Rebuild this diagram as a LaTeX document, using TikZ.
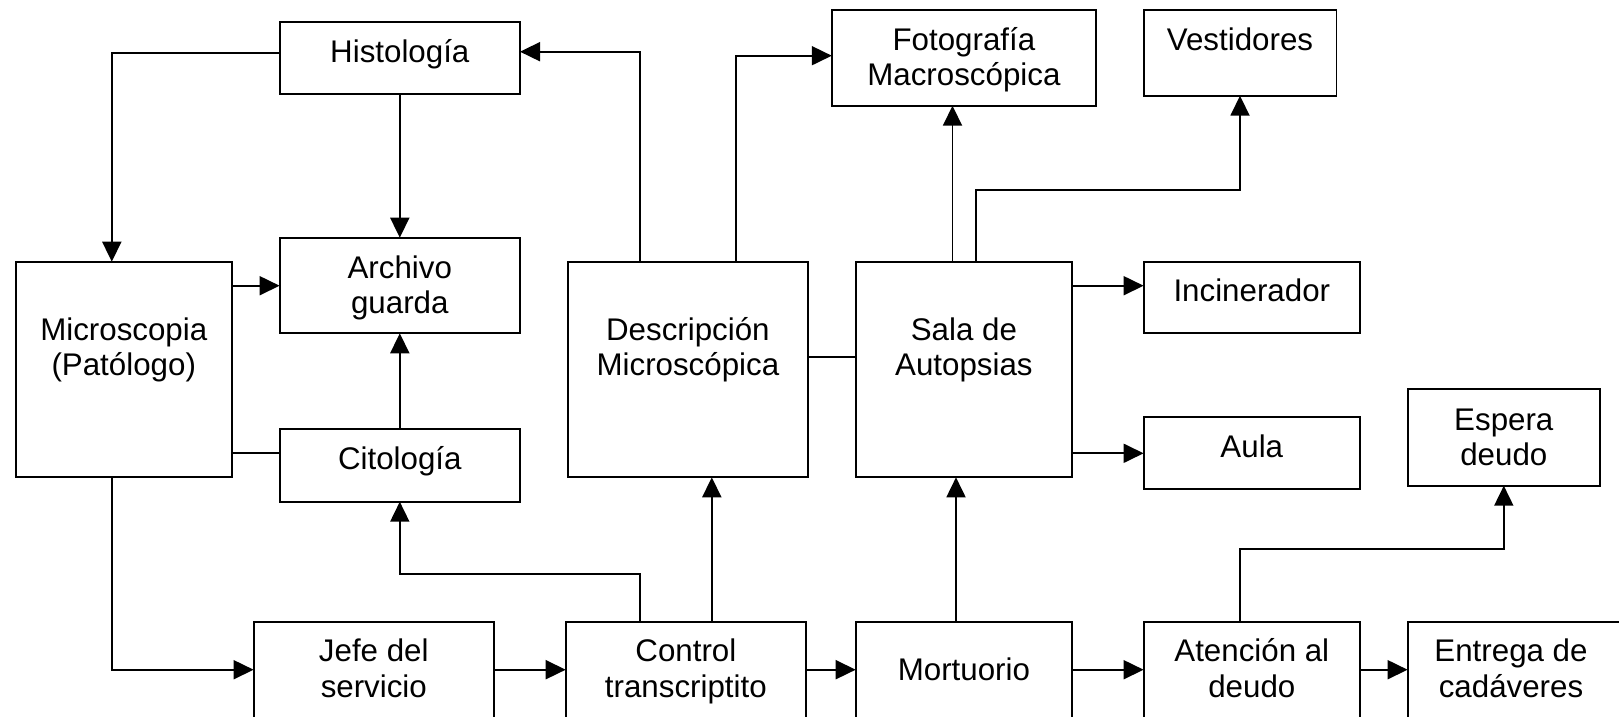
\documentclass[tikz,border=0pt]{standalone}
\usepackage{fontspec}
\setmainfont{Liberation Sans}
\usetikzlibrary{arrows.meta}
\newcommand\bx[5]{\node[box, minimum width={(#4)-(#2)}, minimum height={(#5)-(#3)}] (#1) at ({((#2)+(#4))/2},{((#3)+(#5))/2}) {};}
\begin{document}
\begin{tikzpicture}[x=1pt,y=-1pt,
  box/.style={draw, line width=1.8pt, inner sep=0pt, outer sep=0pt},
  arr/.style={line width=1.8pt, -{Triangle[length=20pt,width=19pt]}},
  ln/.style={line width=1.8pt},
  txt/.style={anchor=base, inner sep=0pt, font=\fontsize{31.3}{35}\selectfont}]
\useasboundingbox (0,0) rectangle (1619,716);
\clip (0,0) rectangle (1619,716);
% boxes
\bx{histo}{279.6}{21.7}{520}{93.7}
\bx{foto}{831.8}{9.7}{1096}{105.7}
\bx{vest}{1143.6}{9.7}{1336.4}{95.7}
\bx{archivo}{279.6}{237.7}{520}{333.3}
\bx{micro}{15.7}{261.7}{231.8}{477.3}
\bx{descr}{567.9}{261.7}{807.9}{477.3}
\bx{sala}{855.7}{261.7}{1072}{477.3}
\bx{incin}{1143.6}{261.7}{1360}{333.3}
\bx{cito}{279.6}{429.3}{520}{501.7}
\bx{aula}{1143.6}{417.3}{1360}{489.3}
\bx{espera}{1407.6}{389.3}{1600}{485.7}
\bx{jefe}{253.6}{621.7}{494}{717.7}
\bx{control}{565.7}{621.7}{806}{717.7}
\bx{mort}{855.7}{621.7}{1072}{717.7}
\bx{aten}{1143.6}{621.7}{1360}{717.7}
\bx{entrega}{1407.6}{621.7}{1630}{717.7}
% texts
\node[txt] (histoT) at (399.8,62.7) {Histología};
\node[txt] (fotoT1) at (963.9,50) {Fotografía};
\node[txt] (fotoT2) at (963.9,85) {Macroscópica};
\node[txt] (vestT) at (1240,50) {Vestidores};
\node[txt] (archT1) at (399.8,278.3) {Archivo};
\node[txt] (archT2) at (399.8,313.3) {guarda};
\node[txt] (microT1) at (123.75,340) {Microscopia};
\node[txt] (microT2) at (123.75,375) {(Patólogo)};
\node[txt] (descrT1) at (687.9,340) {Descripción};
\node[txt] (descrT2) at (687.9,375) {Microscópica};
\node[txt] (salaT1) at (963.9,340) {Sala de};
\node[txt] (salaT2) at (963.9,375) {Autopsias};
\node[txt] (incinT) at (1251.8,301.7) {Incinerador};
\node[txt] (citoT) at (399.8,469.3) {Citología};
\node[txt] (aulaT) at (1251.8,457.3) {Aula};
\node[txt] (esperaT1) at (1503.8,430) {Espera};
\node[txt] (esperaT2) at (1503.8,465.5) {deudo};
\node[txt] (jefeT1) at (373.8,661.7) {Jefe del};
\node[txt] (jefeT2) at (373.8,697) {servicio};
\node[txt] (controlT1) at (685.85,661.7) {Control};
\node[txt] (controlT2) at (685.85,697) {transcriptito};
\node[txt] (mortT) at (963.9,680) {Mortuorio};
\node[txt] (atenT1) at (1251.8,661.7) {Atención al};
\node[txt] (atenT2) at (1251.8,697) {deudo};
\node[txt] (entT1) at (1511,661.7) {Entrega de};
\node[txt] (entT2) at (1511,697) {cadáveres};
% connectors
\draw[arr] (histo.west |- 0,53) -| (micro.north -| 111.8,0);
\draw[arr] (histo.south) -- (archivo.north);
\draw[arr] (micro.east |- 0,285.7) -- (archivo.west |- 0,285.7);
\draw[arr] (cito.north) -- (archivo.south);
\draw[ln] (micro.east |- 0,453.3) -- (cito.west |- 0,453.3);
\draw[arr] (micro.south -| 111.8,0) |- (jefe.west);
\draw[arr] (jefe.east) -- (control.west);
\draw[arr] (control.north -| 640,0) |- (cito.south |- 0,574) -- (cito.south);
\draw[arr] (control.north -| 711.8,0) -- (descr.south -| 711.8,0);
\draw[arr] (control.east) -- (mort.west);
\draw[arr] (mort.north -| 956,0) -- (sala.south -| 956,0);
\draw[arr] (mort.east) -- (aten.west);
\draw[arr] (aten.east) -- (entrega.west);
\draw[arr] (aten.north -| 1239.8,0) |- (espera.south |- 0,549.3) -- (espera.south);
\draw[arr] (descr.north -| 640,0) |- (histo.east |- 0,51.7);
\draw[arr] (descr.north -| 735.7,0) |- (foto.west |- 0,55.7);
\draw[ln] (descr.east |- 0,357) -- (sala.west |- 0,357);
\draw[arr] (sala.north -| 952.5,0) -- (foto.south -| 952.5,0);
\draw[arr] (sala.north -| 975.7,0) |- (vest.south |- 0,190) -- (vest.south);
\draw[arr] (sala.east |- 0,285.7) -- (incin.west |- 0,285.7);
\draw[arr] (sala.east |- aula.west) -- (aula.west);
\end{tikzpicture}
\end{document}
